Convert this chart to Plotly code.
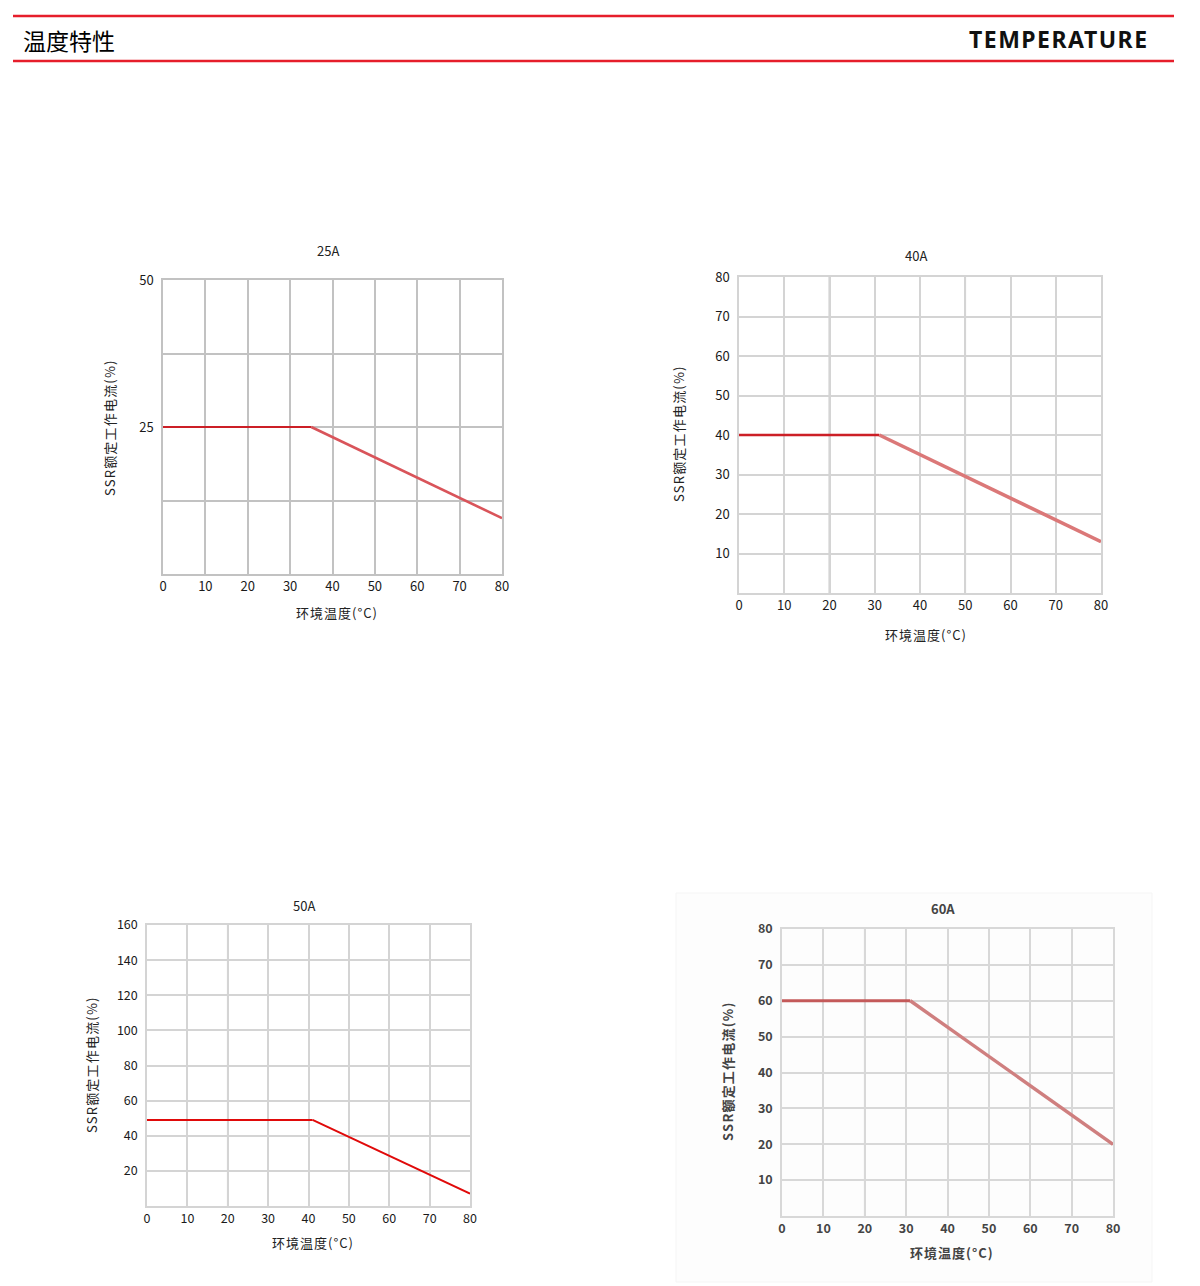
import plotly.graph_objects as go

W, H = 1200, 1286
FONT = "Noto Sans CJK SC"

# ---------------- data ----------------
TITLE_CN = "温度特性"
TITLE_EN = "TEMPERATURE"
Y_LABEL = "SSR额定工作电流(%)"
X_LABEL = "环境温度(°C)"

chart_titles = ["25A", "40A", "50A", "60A"]
x_ticks = [0, 10, 20, 30, 40, 50, 60, 70, 80]

temp_25 = [0, 35, 80]
cur_25 = [25, 25, 9.5]
temp_40 = [0, 31, 80]
cur_40 = [40, 40, 13]
temp_50 = [0, 41, 80]
cur_50 = [49, 49, 7]
temp_60 = [0, 31, 80]
cur_60 = [60, 60, 20]

y_ticks_25 = [12.5, 25, 37.5, 50]
y_text_25 = ["", "25", "", "50"]
y_ticks_40 = [10, 20, 30, 40, 50, 60, 70, 80]
y_ticks_50 = [20, 40, 60, 80, 100, 120, 140, 160]
y_ticks_60 = [10, 20, 30, 40, 50, 60, 70, 80]
y_max = [50, 80, 160, 80]
bold_x = [20, 50]  # darker vertical grid lines (charts 2-4)

# ---------------- styling / layout ----------------
boxes = [  # left, right, top, bottom in px
    (163, 502, 280, 574),
    (739, 1101, 277, 593),
    (147, 470, 925, 1206),
    (782, 1113, 929, 1216),
]
title_pos = [(328, 251), (916, 255), (304, 905), (943, 908)]
ytitle_pos = [(110, 427), (678, 433), (91, 1065), (727, 1071)]
xtitle_pos = [(337, 612), (926, 634), (313, 1242), (952, 1252)]

series = [
    (temp_25, cur_25, "#cc1f26", "#d9545a", 2.2, 2.6),
    (temp_40, cur_40, "#cc1f26", "#db7878", 2.6, 3.6),
    (temp_50, cur_50, "#e00a0a", "#e00a0a", 2.0, 2.0),
    (temp_60, cur_60, "#c45a5a", "#cf7f7f", 3.0, 3.4),
]
yticks = [(y_ticks_25, y_text_25), (y_ticks_40, [str(v) for v in y_ticks_40]),
          (y_ticks_50, [str(v) for v in y_ticks_50]), (y_ticks_60, [str(v) for v in y_ticks_60])]
grid_col = ["#c2c2c2", "#d4d4d4", "#d4d4d4", "#d8d8d8"]
tick_font = [
    dict(family=FONT, size=13, color="#1a1a1a"),
    dict(family=FONT, size=13, color="#1a1a1a"),
    dict(family=FONT, size=12.5, color="#1a1a1a"),
    dict(family=FONT, size=12.5, color="#444444", weight="bold"),
]

fig = go.Figure()
layout = dict(
    width=W, height=H, margin=dict(l=0, r=0, t=0, b=0, pad=0, autoexpand=False),
    paper_bgcolor="white", plot_bgcolor="white", showlegend=False,
)
shapes = []
annotations = []


def px(x):
    return x / W


def py(y):
    return 1 - y / H


def spaced(text, sp):
    return '<span style="letter-spacing:%spx">%s</span>' % (sp, text)


# faint background box behind the 60A chart (scanned image look)
shapes.append(dict(type="rect", xref="paper", yref="paper", x0=px(676), x1=px(1152),
                   y0=py(1282), y1=py(893), fillcolor="#fdfdfd",
                   line=dict(color="#f5f5f5", width=1), layer="below"))

for i in range(4):
    n = "" if i == 0 else str(i + 1)
    l, r, t, b = boxes[i]
    tx, ty, c1, c2, w1, w2 = series[i]
    # flat segment and derating slope
    fig.add_trace(go.Scatter(x=tx[:2], y=ty[:2], mode="lines", xaxis="x" + n, yaxis="y" + n,
                             line=dict(color=c1, width=w1), hoverinfo="skip"))
    fig.add_trace(go.Scatter(x=tx[1:], y=ty[1:], mode="lines", xaxis="x" + n, yaxis="y" + n,
                             line=dict(color=c2, width=w2), hoverinfo="skip"))
    layout["xaxis" + n] = dict(
        domain=[px(l), px(r)], range=[0, 80], anchor="y" + n, automargin=False,
        tickvals=x_ticks, ticktext=[str(v) for v in x_ticks],
        showgrid=True, gridcolor=grid_col[i], gridwidth=1.5,
        showline=True, mirror=True, linecolor=grid_col[i], linewidth=1.5,
        zeroline=False, ticks="", ticklabelstandoff=0, tickfont=tick_font[i],
        fixedrange=True,
    )
    tv, tt = yticks[i]
    layout["yaxis" + n] = dict(
        domain=[py(b), py(t)], range=[0, y_max[i]], anchor="x" + n, automargin=False,
        tickvals=tv, ticktext=tt,
        showgrid=True, gridcolor=grid_col[i], gridwidth=1.5,
        showline=True, mirror=True, linecolor=grid_col[i], linewidth=1.5,
        zeroline=False, ticks="", ticklabelstandoff=5, tickfont=tick_font[i],
        fixedrange=True,
    )
    if i > 0:
        for xv in bold_x:
            shapes.append(dict(type="line", xref="x" + n, yref="y" + n + " domain",
                               x0=xv, x1=xv, y0=0, y1=1, layer="below",
                               line=dict(color="#a9a9a9", width=1.6)))
    bold = (i == 3)
    fnt = dict(family=FONT, size=13, color="#222222" if not bold else "#444444",
               weight="bold" if bold else "normal")
    annotations.append(dict(text=chart_titles[i], x=px(title_pos[i][0]), y=py(title_pos[i][1]),
                            xref="paper", yref="paper", showarrow=False,
                            xanchor="center", yanchor="middle", font=fnt))
    annotations.append(dict(text=spaced(Y_LABEL, 1.2), x=px(ytitle_pos[i][0]),
                            y=py(ytitle_pos[i][1]), xref="paper", yref="paper",
                            showarrow=False, textangle=-90,
                            xanchor="center", yanchor="middle", font=fnt))
    annotations.append(dict(text=spaced(X_LABEL, 1), x=px(xtitle_pos[i][0]),
                            y=py(xtitle_pos[i][1]), xref="paper", yref="paper",
                            showarrow=False, xanchor="center", yanchor="middle", font=fnt))

# header
for yy in (16, 61):
    shapes.append(dict(type="line", xref="paper", yref="paper", x0=px(13), x1=px(1174),
                       y0=py(yy), y1=py(yy), line=dict(color="#e61e2b", width=2.5)))
annotations.append(dict(text=TITLE_CN, x=px(21), y=py(40), xref="paper", yref="paper",
                        xanchor="left", yanchor="middle", showarrow=False,
                        font=dict(family=FONT, size=23, color="#000000")))
annotations.append(dict(text=spaced(TITLE_EN, 1.5), x=px(1151), y=py(39), xref="paper",
                        yref="paper", xanchor="right", yanchor="middle", showarrow=False,
                        font=dict(family="Noto Sans", size=23, color="#111111",
                                  weight="bold")))

layout["shapes"] = shapes
layout["annotations"] = annotations
fig.update_layout(**layout)
fig.write_html(
    "out.html",
    config={"displayModeBar": False},
    post_script="document.body.style.margin='0';document.body.style.overflow='hidden';",
)
